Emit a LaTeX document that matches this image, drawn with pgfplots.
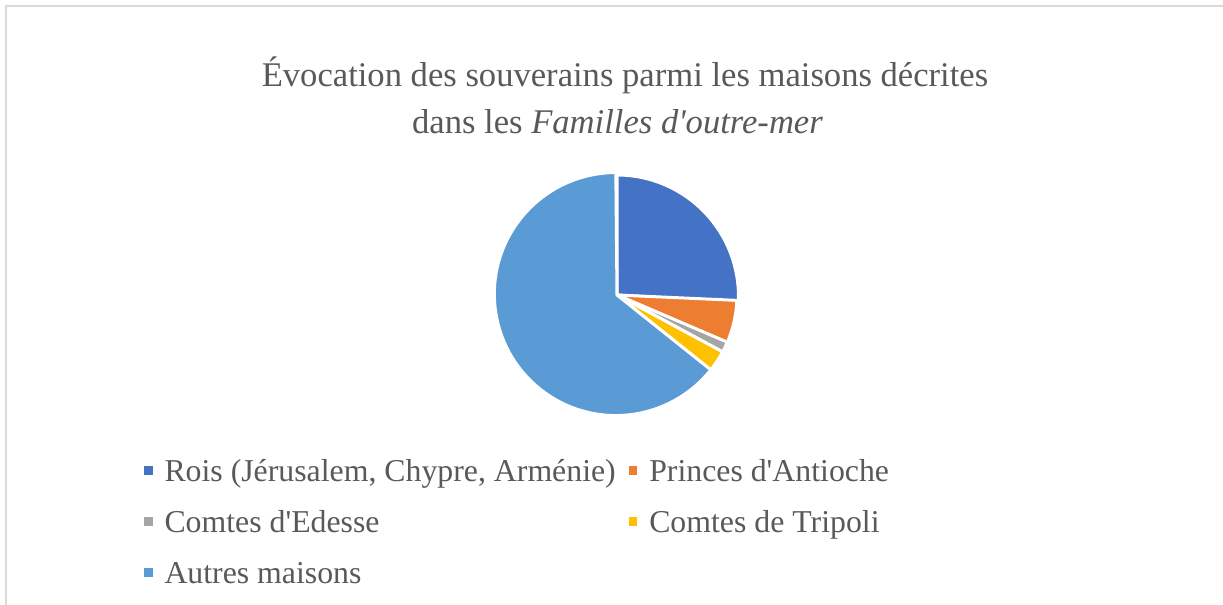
\documentclass[border=0pt]{standalone}
\usepackage{fontspec}
\setmainfont{Liberation Serif}
\usepackage{pgfplots}
\pgfplotsset{compat=1.18}
\definecolor{cRois}{HTML}{4472C4}
\definecolor{cAnt}{HTML}{ED7D31}
\definecolor{cEde}{HTML}{A5A5A5}
\definecolor{cTri}{HTML}{FFC000}
\definecolor{cAut}{HTML}{5B9BD5}
\definecolor{txt}{HTML}{595959}
\definecolor{frame}{HTML}{D9D9D9}
% data (counts of houses)
\def\vA{18}% Rois
\def\vB{4}%  Princes d'Antioche
\def\vC{1}%  Comtes d'Edesse
\def\vD{2}%  Comtes de Tripoli
\def\vE{45}% Autres maisons
\pgfmathsetmacro{\tot}{\vA+\vB+\vC+\vD+\vE}
\pgfmathsetmacro{\aA}{90}
\pgfmathsetmacro{\aB}{\aA-360*\vA/\tot}
\pgfmathsetmacro{\aC}{\aB-360*\vB/\tot}
\pgfmathsetmacro{\aD}{\aC-360*\vC/\tot}
\pgfmathsetmacro{\aE}{\aD-360*\vD/\tot}
\pgfmathsetmacro{\aF}{\aE-360*\vE/\tot}
\newcommand{\ap}{\textquotesingle}
\begin{document}
\begin{tikzpicture}
\useasboundingbox (0,0) rectangle (1223bp,605bp);
\draw[frame, line width=2bp] (6bp,0) -- (6bp,599bp) -- (1223bp,599bp);
\node[anchor=base, text=txt, font=\fontsize{34.6bp}{40bp}\selectfont, inner sep=0pt] at (625bp,518bp) {Évocation des souverains parmi les maisons décrites};
\node[anchor=base, text=txt, font=\fontsize{34.6bp}{40bp}\selectfont, inner sep=0pt] at (617.5bp,471bp) {dans les \textit{Familles d\ap outre-mer}};
\begin{axis}[
  at={(617bp,310bp)}, anchor=center,
  x=120bp, y=120bp, xmin=-1, xmax=1, ymin=-1, ymax=1,
  hide axis, clip=false,
  legend columns=2,
  legend cell align=left,
  legend image code/.code={\fill[draw=none,#1] (0bp,-0.5bp) rectangle (8.5bp,8bp);},
  legend style={draw=none, fill=none, inner sep=0pt, outer sep=0pt,
    at={(axis description cs:-1.4708,-0.18625)}, anchor=north west,
    font=\fontsize{31.8bp}{36bp}\selectfont, text=txt,
    row sep=22bp,
    nodes={inner sep=0pt, text height=22bp, text depth=7bp},
    /tikz/every odd column/.append style={column sep=12bp},
    /tikz/every even column/.append style={column sep=13bp}},
]
\fill[cRois, draw=white, line width=3bp] (axis cs:0,0) -- (axis cs:{cos(\aA)},{sin(\aA)}) arc[start angle=\aA, end angle=\aB, radius=121.5bp] -- cycle;
\fill[cAnt, draw=white, line width=3bp] (axis cs:0,0) -- (axis cs:{cos(\aB)},{sin(\aB)}) arc[start angle=\aB, end angle=\aC, radius=121.5bp] -- cycle;
\fill[cEde, draw=white, line width=3bp] (axis cs:0,0) -- (axis cs:{cos(\aC)},{sin(\aC)}) arc[start angle=\aC, end angle=\aD, radius=121.5bp] -- cycle;
\fill[cTri, draw=white, line width=3bp] (axis cs:0,0) -- (axis cs:{cos(\aD)},{sin(\aD)}) arc[start angle=\aD, end angle=\aE, radius=121.5bp] -- cycle;
\fill[cAut, draw=white, line width=3bp] (axis cs:0,0) -- (axis cs:{cos(\aE)},{sin(\aE)}) arc[start angle=\aE, end angle=\aF, radius=121.5bp] -- cycle;
\addlegendimage{fill=cRois}\addlegendentry{Rois (Jérusalem, Chypre, Arménie)}
\addlegendimage{fill=cAnt}\addlegendentry{Princes d\ap Antioche}
\addlegendimage{fill=cEde}\addlegendentry{Comtes d\ap Edesse}
\addlegendimage{fill=cTri}\addlegendentry{Comtes de Tripoli}
\addlegendimage{fill=cAut}\addlegendentry{Autres maisons}
\end{axis}
\end{tikzpicture}
\end{document}
